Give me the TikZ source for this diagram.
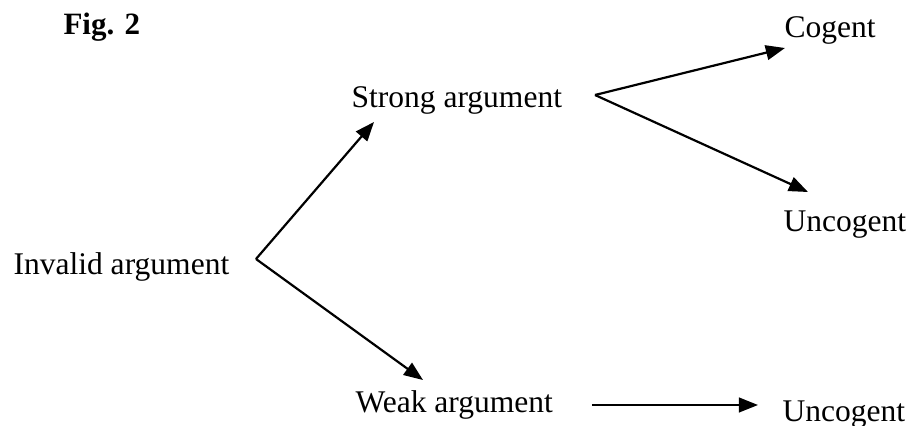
\documentclass[tikz,border=0pt]{standalone}
\usepackage{fontspec}
\setmainfont{Liberation Serif}
\usepackage{tikz}
\usetikzlibrary{arrows.meta, positioning}

\begin{document}
\begin{tikzpicture}[
  x=0.0136cm, y=-0.0136cm,
  term/.style={inner sep=0pt, anchor=base west, font=\fontsize{12.2}{14}\selectfont},
  arrow/.style={-{Triangle[length=0.26cm, width=0.2cm]}, line width=0.85pt}
]
\useasboundingbox (0,0) rectangle (908,426);

\node[term, font=\fontsize{12}{14}\selectfont\bfseries] (fig) at (63,35) {Fig. 2};
\node[term] (invalid) at (13,275) {Invalid argument};
\node[term] (strong) at (351,108) {Strong argument};
\node[term] (weak) at (355,413) {Weak argument};
\node[term] (cogent) at (784,38) {Cogent};
\node[term] (uncogentA) at (783,232) {Uncogent};
\node[term] (uncogentB) at (782,422) {Uncogent};

% branch points and arrow ends
\coordinate (fork) at (256,259);
\coordinate (strongfork) at (595,95);
\coordinate (toStrong) at (374,122);
\coordinate (toWeak) at (423,380);
\coordinate (toCogent) at (785,48);
\coordinate (toUncogentA) at (808,192);
\coordinate (fromWeak) at (592,405);
\coordinate (toUncogentB) at (758,405);

\draw[arrow] (fork) -- (toStrong);
\draw[arrow] (fork) -- (toWeak);
\draw[arrow] (strongfork) -- (toCogent);
\draw[arrow] (strongfork) -- (toUncogentA);
\draw[arrow] (fromWeak) -- (toUncogentB);
\end{tikzpicture}
\end{document}
